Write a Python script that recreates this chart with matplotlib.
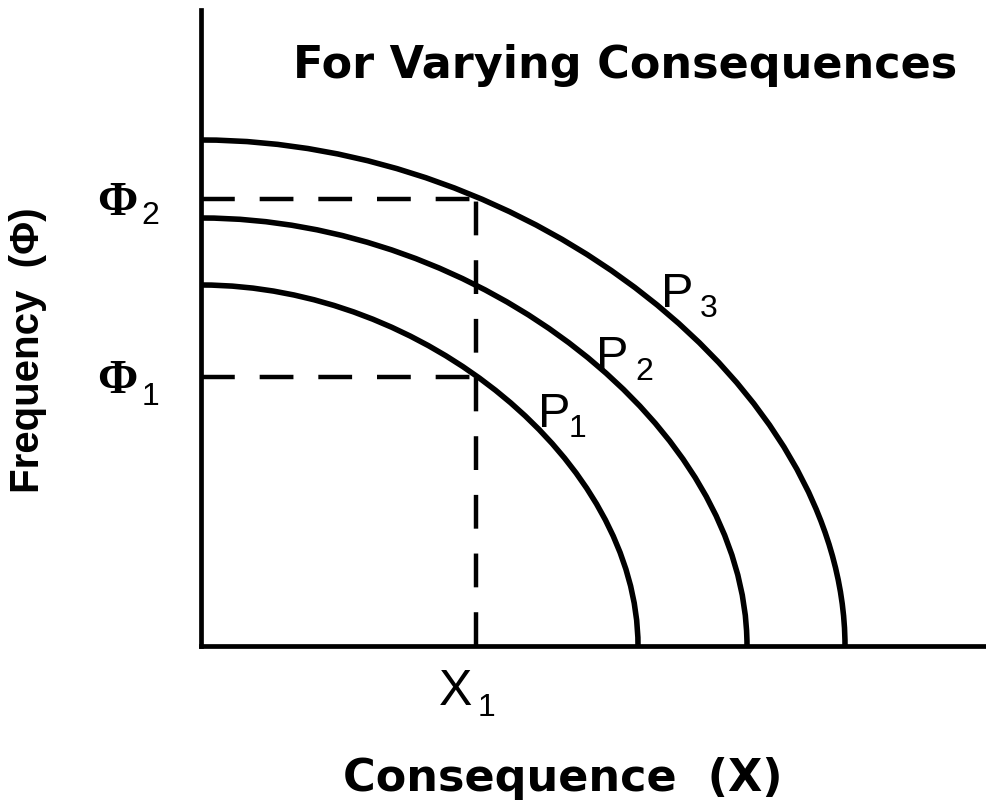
import matplotlib.pyplot as plt
from matplotlib.path import Path
from matplotlib.patches import PathPatch

# 三条曲线 P1..P3 与坐标轴的交点
curve_names = ['1', '2', '3']
x_ends = [4.37, 5.46, 6.44]
y_ends = [3.61, 4.28, 5.06]

# 参考线 X1, Phi1, Phi2
x1 = 2.75
phi_levels = [2.69, 4.47]
phi_names = ['1', '2']

W, H = 987, 810
bend = 0.51  # 曲线形状 (0.55 接近圆)


def fx(px):
    return px / W


def fy(py):
    return 1 - py / H


fig = plt.figure(figsize=(W / 100, H / 100), dpi=100)
ax = fig.add_axes([fx(201), fy(646), (W - 201) / W, (646 - 10) / H])
ax.set_xlim(0, (W - 201) / 100)
ax.set_ylim(0, 6.36)
for side in ['top', 'right']:
    ax.spines[side].set_visible(False)
for side in ['left', 'bottom']:
    ax.spines[side].set_linewidth(3.4)
    ax.spines[side].set_color('black')
ax.set_xticks([])
ax.set_yticks([])

# 曲线
codes = [Path.MOVETO, Path.CURVE4, Path.CURVE4, Path.CURVE4]
for a, b in zip(x_ends, y_ends):
    verts = [(0, b), (bend * a, b), (a, bend * b), (a, 0)]
    ax.add_patch(PathPatch(Path(verts, codes), fill=False, lw=4.0,
                           edgecolor='black', clip_on=False))

# 虚线
dash = (0, (7.6, 5.6))
for p in phi_levels:
    ax.plot([0, x1], [p, p], color='black', lw=3.2, linestyle=dash,
            dash_capstyle='butt', clip_on=False)
ax.plot([x1, x1], [0, max(phi_levels)], color='black', lw=3.2, linestyle=dash,
        dash_capstyle='butt', clip_on=False)

# 文字
fig.text(fx(293), fy(78), 'For Varying Consequences', fontsize=32,
         fontweight='bold', family='DejaVu Sans', va='baseline')
fig.text(fx(343), fy(791), 'Consequence  (X)', fontsize=32,
         fontweight='bold', family='DejaVu Sans', va='baseline')
fig.text(fx(28), fy(350), 'Frequency  (\u03a6)', fontsize=29, rotation=90,
         fontweight='bold', family='Liberation Sans', ha='center', va='center')

sans = 'Liberation Sans'
# P 标签
p_pos = [(538, 427, 569, 437), (596, 370, 635, 380), (661, 307, 700, 317)]
for name, (px, py, sx, sy) in zip(curve_names, p_pos):
    fig.text(fx(px), fy(py), 'P', fontsize=35, family=sans, va='baseline')
    fig.text(fx(sx), fy(sy), name, fontsize=23, family=sans, va='baseline')

# X1
fig.text(fx(439), fy(705), 'X', fontsize=36, family=sans, va='baseline')
fig.text(fx(478), fy(716), '1', fontsize=23, family=sans, va='baseline')

# Phi 标签
phi_pos = [(97, 393, 142, 405), (97, 215, 141, 224)]
for name, (px, py, sx, sy) in zip(phi_names, phi_pos):
    fig.text(fx(px), fy(py), '\u03a6', fontsize=35, fontweight='bold',
             family='Liberation Serif', va='baseline')
    fig.text(fx(sx), fy(sy), name, fontsize=23, family=sans, va='baseline')

fig.savefig('out.png', dpi=100)
